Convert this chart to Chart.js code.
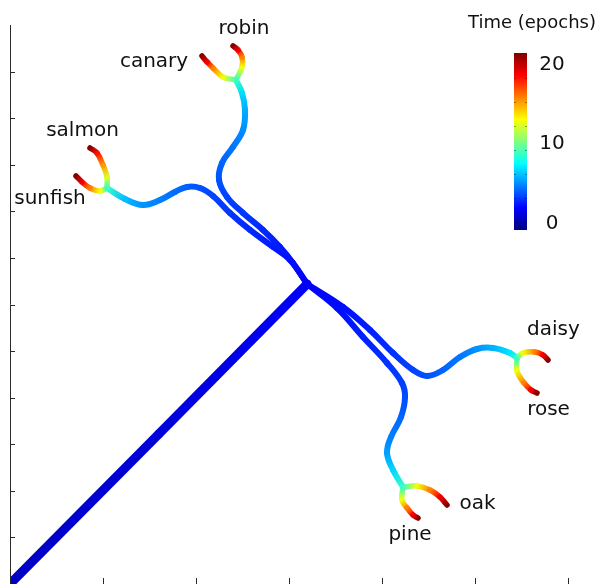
<!DOCTYPE html>
<html>
<head>
<meta charset="utf-8">
<script src="https://cdn.jsdelivr.net/npm/chart.js@4.4.1/dist/chart.umd.min.js"></script>
<style>
  html, body { margin: 0; padding: 0; background: #ffffff; }
  #wrap { width: 601px; height: 584px; }
</style>
</head>
<body>
<div id="wrap"><canvas id="c" width="601" height="584"></canvas></div>
<script>
// Trajectory pieces in representation space: [x, y, epoch]
const trunk = [[0, 0, 0.5], [3.2, 3.22, 0.9], [6.39, 6.44, 1.6]];

const birdPath = [
  [6.39, 6.44, 1.6], [6.086, 6.891, 2.0], [5.806, 7.235, 2.3], [5.441, 7.600, 2.6],
  [5.011, 7.965, 2.9], [4.667, 8.308, 3.2], [4.495, 8.673, 3.5], [4.559, 9.038, 3.9],
  [4.796, 9.382, 4.3], [5.011, 9.747, 4.8], [5.054, 10.176, 5.5], [4.989, 10.541, 6.5],
  [4.860, 10.820, 8.5]
];
const fishPath = [
  [6.39, 6.44, 1.6], [6.022, 6.956, 2.0], [5.656, 7.235, 2.3], [5.161, 7.600, 2.6],
  [4.731, 7.965, 2.9], [4.366, 8.330, 3.2], [4.086, 8.501, 3.5], [3.806, 8.523, 3.8],
  [3.548, 8.416, 4.1], [3.226, 8.244, 4.5], [2.860, 8.137, 4.9], [2.473, 8.265, 5.8],
  [2.086, 8.501, 8.5]
];
const flowerPath = [
  [6.39, 6.44, 1.6], [7.161, 5.947, 2.0], [7.742, 5.453, 2.4], [8.237, 4.959, 2.8],
  [8.667, 4.594, 3.2], [8.968, 4.465, 3.5], [9.312, 4.594, 3.9], [9.677, 4.873, 4.3],
  [10.043, 5.045, 4.9], [10.387, 5.067, 5.6], [10.753, 4.959, 6.7], [10.903, 4.852, 8.5]
];
const treePath = [
  [6.39, 6.44, 1.6], [7.032, 5.925, 2.0], [7.591, 5.303, 2.4], [8.108, 4.745, 2.8],
  [8.430, 4.315, 3.1], [8.495, 4.015, 3.4], [8.409, 3.585, 3.9], [8.194, 3.156, 4.5],
  [8.108, 2.812, 5.2], [8.237, 2.447, 6.4], [8.452, 2.082, 8.5]
];

const canaryTip = [[4.860, 10.820, 8.5], [4.581, 10.885, 12.5], [4.366, 11.078, 15.5], [4.237, 11.206, 18.5], [4.129, 11.335, 21.0]];
const robinTip = [[4.860, 10.820, 8.5], [4.989, 11.099, 12.5], [4.989, 11.314, 15.5], [4.903, 11.464, 18.5], [4.796, 11.550, 21.0]];
const salmonTip = [[2.086, 8.501, 8.5], [2.086, 8.738, 12.0], [2.000, 8.995, 15.0], [1.871, 9.253, 18.0], [1.720, 9.360, 21.0]];
const sunfishTip = [[2.086, 8.501, 8.5], [1.935, 8.437, 12.5], [1.720, 8.501, 15.5], [1.548, 8.630, 18.5], [1.419, 8.759, 21.0]];
const daisyTip = [[10.903, 4.852, 8.5], [11.032, 4.959, 12.5], [11.290, 4.981, 15.5], [11.462, 4.916, 18.5], [11.570, 4.809, 21.0]];
const roseTip = [[10.903, 4.852, 8.5], [10.903, 4.573, 12.5], [11.054, 4.315, 15.5], [11.204, 4.165, 18.5], [11.333, 4.100, 21.0]];
const oakTip = [[8.452, 2.082, 8.5], [8.753, 2.104, 12.5], [9.032, 2.018, 15.5], [9.247, 1.868, 18.5], [9.398, 1.696, 21.0]];
const pineTip = [[8.452, 2.082, 8.5], [8.430, 1.803, 12.5], [8.538, 1.632, 15.5], [8.667, 1.481, 18.5], [8.774, 1.417, 21.0]];

// Item names and where their labels sit (centre x, baseline y)
const itemNames = ['robin', 'canary', 'salmon', 'sunfish', 'daisy', 'rose', 'oak', 'pine'];
const labelX = [5.032, 3.097, 1.559, 0.860, 11.688, 11.581, 10.054, 8.602];
const labelY = [11.808, 11.099, 9.618, 8.158, 5.346, 3.628, 1.610, 0.945];

// Axis ticks
const xTicks = [2, 4, 6, 8, 10, 12];
const yTicks = [1, 2, 3, 4, 5, 6, 7, 8, 9, 10, 11];

// Colour bar
const colorbarTitle = 'Time (epochs)';
const colorbarTicks = [0, 10, 20];
const colorbarMinorTicks = [0, 3, 6, 9, 12, 15, 18];
const epochRange = [-1.04, 21.15];

function jet(t) {
  let v = (t - epochRange[0]) / (epochRange[1] - epochRange[0]);
  v = Math.max(0, Math.min(1, v));
  const c = (a) => Math.round(255 * Math.max(0, Math.min(1, a)));
  const r = c(Math.min(4 * v - 1.5, -4 * v + 4.5));
  const g = c(Math.min(4 * v - 0.5, -4 * v + 3.5));
  const b = c(Math.min(4 * v + 0.5, -4 * v + 2.5));
  return `rgb(${r},${g},${b})`;
}

function piece(points, width, order, tension) {
  const times = points.map(p => p[2]);
  return {
    data: points.map(p => ({ x: p[0], y: p[1] })),
    borderWidth: width,
    borderCapStyle: 'round',
    borderJoinStyle: 'round',
    tension: tension,
    pointRadius: 0,
    pointHoverRadius: 0,
    fill: false,
    order: order,
    borderColor: jet(times[0]),
    segment: {
      borderColor: (ctx) => {
        const g = ctx.chart.ctx.createLinearGradient(ctx.p0.x, ctx.p0.y, ctx.p1.x, ctx.p1.y);
        g.addColorStop(0, jet(times[ctx.p0DataIndex]));
        g.addColorStop(1, jet(times[ctx.p1DataIndex]));
        return g;
      },
      borderDashOffset: (ctx) => ctx.p0DataIndex * 0.001
    }
  };
}

const datasets = [
  piece(trunk, 9, 3, 0),
  piece(birdPath, 6, 2, 0.4),
  piece(fishPath, 6, 2, 0.4),
  piece(flowerPath, 6, 2, 0.4),
  piece(treePath, 6, 2, 0.4),
  piece(canaryTip, 5.5, 1, 0.4),
  piece(robinTip, 5.5, 1, 0.4),
  piece(salmonTip, 5.5, 1, 0.4),
  piece(sunfishTip, 5.5, 1, 0.4),
  piece(daisyTip, 5.5, 1, 0.4),
  piece(roseTip, 5.5, 1, 0.4),
  piece(oakTip, 5.5, 1, 0.4),
  piece(pineTip, 5.5, 1, 0.4)
];

const decorations = {
  id: 'decorations',
  afterDatasetsDraw(chart) {
    const ctx = chart.ctx;
    const xs = chart.scales.x, ys = chart.scales.y;
    const left = xs.getPixelForValue(0);
    const bottom = ys.getPixelForValue(0);
    const top = ys.getPixelForValue(12);
    ctx.save();
    // axis line and inward ticks
    ctx.strokeStyle = '#2a2a2a';
    ctx.lineWidth = 1;
    ctx.beginPath();
    ctx.moveTo(left + 0.5, top);
    ctx.lineTo(left + 0.5, bottom);
    yTicks.forEach(v => {
      const py = Math.round(ys.getPixelForValue(v)) + 0.5;
      ctx.moveTo(left, py);
      ctx.lineTo(left + 5, py);
    });
    xTicks.forEach(v => {
      const px = Math.round(xs.getPixelForValue(v)) + 0.5;
      ctx.moveTo(px, bottom);
      ctx.lineTo(px, bottom - 6);
    });
    ctx.stroke();

    // item labels
    ctx.fillStyle = '#111111';
    ctx.font = '20px "DejaVu Sans"';
    ctx.textAlign = 'center';
    ctx.textBaseline = 'alphabetic';
    itemNames.forEach((name, i) => {
      ctx.fillText(name, xs.getPixelForValue(labelX[i]), ys.getPixelForValue(labelY[i]));
    });

    // colour bar
    const bx = 514, bw = 13, bTop = 53, bBot = 230;
    const tToY = (t) => bBot - (t - epochRange[0]) / (epochRange[1] - epochRange[0]) * (bBot - bTop);
    const grad = ctx.createLinearGradient(0, bBot, 0, bTop);
    for (let i = 0; i <= 40; i++) {
      const t = epochRange[0] + (epochRange[1] - epochRange[0]) * i / 40;
      grad.addColorStop(i / 40, jet(t));
    }
    ctx.fillStyle = grad;
    ctx.fillRect(bx, bTop, bw, bBot - bTop);
    ctx.strokeStyle = 'rgba(0,0,0,0.35)';
    ctx.beginPath();
    colorbarMinorTicks.forEach(t => {
      const py = Math.round(tToY(t)) + 0.5;
      ctx.moveTo(bx, py); ctx.lineTo(bx + 2, py);
      ctx.moveTo(bx + bw, py); ctx.lineTo(bx + bw - 2, py);
    });
    ctx.stroke();

    ctx.fillStyle = '#111111';
    ctx.font = '20px "DejaVu Sans"';
    ctx.textAlign = 'center';
    colorbarTicks.forEach(t => {
      ctx.fillText(String(t), 552, tToY(t) + 7.5);
    });
    ctx.font = '18px "DejaVu Sans"';
    ctx.fillText(colorbarTitle, 532, 28);
    ctx.restore();
  }
};

new Chart(document.getElementById('c'), {
  type: 'line',
  data: { datasets },
  options: {
    responsive: false,
    animation: false,
    devicePixelRatio: 1,
    layout: { padding: { left: 10, top: 25, right: 33, bottom: 0 } },
    plugins: { legend: { display: false }, tooltip: { enabled: false } },
    events: [],
    scales: {
      x: { type: 'linear', min: 0, max: 12, display: false },
      y: { type: 'linear', min: 0, max: 12, display: false }
    }
  },
  plugins: [decorations]
});
</script>
</body>
</html>
